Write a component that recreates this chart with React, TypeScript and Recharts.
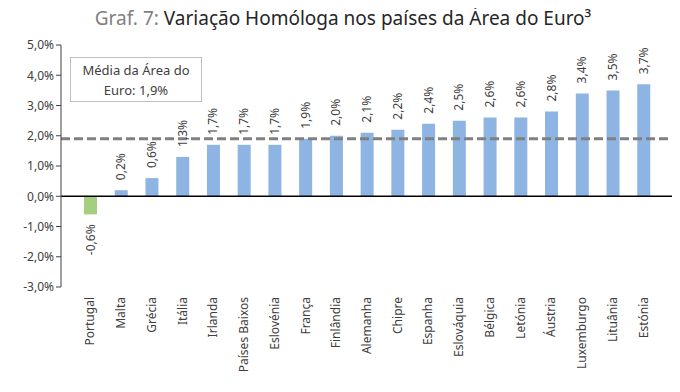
import React from "react";
import {
  BarChart,
  Bar,
  XAxis,
  YAxis,
  ReferenceLine,
  LabelList,
  Cell,
} from "recharts";

const countries = [
  "Portugal", "Malta", "Grécia", "Itália", "Irlanda", "Países Baixos", "Eslovénia",
  "França", "Finlândia", "Alemanha", "Chipre", "Espanha", "Eslováquia", "Bélgica",
  "Letónia", "Áustria", "Luxemburgo", "Lituânia", "Estónia",
];
const values = [
  -0.6, 0.2, 0.6, 1.3, 1.7, 1.7, 1.7, 1.9, 2.0, 2.1, 2.2, 2.4, 2.5, 2.6, 2.6, 2.8, 3.4, 3.5, 3.7,
];
const yTicks = [-3, -2, -1, 0, 1, 2, 3, 4, 5];
const euroAverage = 1.9;

const BLUE = "#8DB4E2";
const GREEN = "#A4CF7E";
const TEXT = "#404040";
const FONT = "'Noto Sans', sans-serif";

const data = countries.map((c, i) => ({ country: c, value: values[i] }));

const pct = (v: number) => `${v.toFixed(1).replace(".", ",")}%`;

function CountryTick(props: any) {
  const { x, y, payload } = props;
  return (
    <text
      x={0}
      y={0}
      transform={`translate(${x + 4},${y + 2}) rotate(-90)`}
      textAnchor="end"
      fontSize={12}
      fill={TEXT}
      fontFamily={FONT}
    >
      {payload.value}
    </text>
  );
}

function ValueLabel(props: any) {
  const { x, y, width, height, value } = props;
  const cx = x + width / 2 + 4;
  const top = Math.min(y, y + height);
  const bottom = Math.max(y, y + height);
  if (value < 0) {
    return (
      <text
        transform={`translate(${cx},${bottom + 10}) rotate(-90)`}
        textAnchor="end"
        fontSize={12}
        fill={TEXT}
        fontFamily={FONT}
      >
        {pct(value)}
      </text>
    );
  }
  return (
    <text
      transform={`translate(${cx},${top - 10}) rotate(-90)`}
      textAnchor="start"
      fontSize={12}
      fill={TEXT}
      fontFamily={FONT}
    >
      {pct(value)}
    </text>
  );
}

export default function App() {
  return (
    <div style={{ margin: -8, position: "relative", width: 680, height: 392, background: "#fff" }}>
      <BarChart
        width={680}
        height={392}
        data={data}
        margin={{ top: 45, right: 5, bottom: 5, left: 0 }}
      >
        <XAxis
          dataKey="country"
          interval={0}
          height={100}
          axisLine={false}
          tickLine={false}
          tick={<CountryTick />}
          padding={{ left: 14, right: 16 }}
        />
        <YAxis
          type="number"
          domain={[-3, 5]}
          ticks={yTicks}
          width={61}
          tickFormatter={pct}
          axisLine={{ stroke: "#404040", strokeWidth: 1 }}
          tickLine={{ stroke: "#404040" }}
          tickSize={5}
          tick={{ fontSize: 12, fill: TEXT, fontFamily: FONT }}
        />
        <ReferenceLine y={0} stroke="#000" strokeWidth={1.5} />
        <Bar dataKey="value" barSize={13} isAnimationActive={false}>
          {data.map((d) => (
            <Cell key={d.country} fill={d.value < 0 ? GREEN : BLUE} />
          ))}
          <LabelList dataKey="value" content={<ValueLabel />} />
        </Bar>
        <ReferenceLine
          y={euroAverage}
          stroke="#808080"
          strokeWidth={3}
          strokeDasharray="9 4"
        />
      </BarChart>
      <div
        style={{
          position: "absolute",
          top: 5,
          left: 0,
          width: 686,
          zIndex: 2,
          textAlign: "center",
          fontFamily: FONT,
          fontSize: 19,
          lineHeight: "26px",
          color: "#262626",
        }}
      >
        <span style={{ color: "#7f7f7f" }}>Graf. 7: </span>
        Variação Homóloga nos países da Área do Euro³
      </div>
      <div
        style={{
          position: "absolute",
          left: 70,
          top: 57,
          width: 132,
          height: 45,
          zIndex: 2,
          border: "1px solid #bfbfbf",
          background: "#fff",
          fontFamily: FONT,
          fontSize: 13,
          color: TEXT,
          textAlign: "center",
          lineHeight: "20px",
          paddingTop: 2,
          boxSizing: "border-box",
        }}
      >
        Média da Área do
        <br />
        Euro: 1,9%
      </div>
    </div>
  );
}
